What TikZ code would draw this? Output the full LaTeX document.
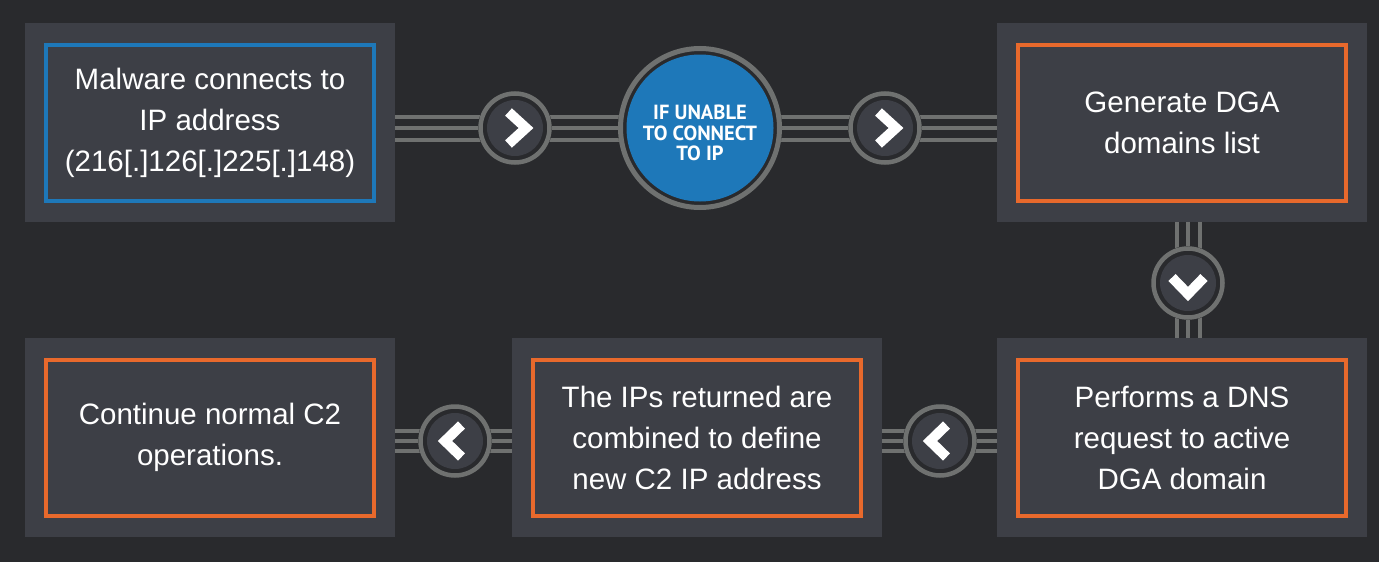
\documentclass[tikz,border=0pt]{standalone}
\usepackage{fontspec}
\setmainfont{Liberation Sans}
\newfontfamily\circfont{PT Sans}
\usetikzlibrary{calc}
\definecolor{bgc}{HTML}{292A2D}
\definecolor{panelc}{HTML}{3D3F46}
\definecolor{linec}{HTML}{6F7170}
\definecolor{bluec}{HTML}{1E78B9}
\definecolor{orangec}{HTML}{E8692C}
\tikzset{
  panel/.style={fill=panelc, minimum width=370pt, minimum height=199pt, inner sep=0pt},
  framebox/.style={draw=#1, line width=4pt, minimum width=328pt, minimum height=156pt, inner sep=0pt,
    text=white, align=center, font=\fontsize{29.5}{41}\selectfont},
  conn/.style={draw=linec, line width=4pt},
  smallc/.style={circle, fill=bgc, minimum size=76pt, inner sep=0pt},
  bigc/.style={circle, fill=bgc, minimum size=166pt, inner sep=0pt},
  chev/.style={draw=white, line width=10pt, miter limit=10},
}
\begin{document}
\begin{tikzpicture}[x=1pt,y=-1pt]
\useasboundingbox (0,0) rectangle (1379,562);
\fill[bgc] (0,0) rectangle (1379,562);
% panels
\node[panel] (p1) at (210,122.5) {};
\node[panel] (p2) at (1182,122.5) {};
\node[panel] (p3) at (1182,437.5) {};
\node[panel] (p4) at (697,437.5) {};
\node[panel] (p5) at (210,437.5) {};
% junction circles
\node[bigc] (big) at (700,128) {};
\node[smallc] (c1) at (515,128) {};
\node[smallc] (c2) at (885,128) {};
\node[smallc] (c3) at (1188,283) {};
\node[smallc] (c4) at (940,441) {};
\node[smallc] (c5) at (455,441) {};
% connectors
\foreach \d in {-11.5,0,11.5}{
  \draw[conn] ($(p1.east |- big)+(0,\d)$) -- ($(big.center)+(0,\d)$);
  \draw[conn] ($(big.center)+(0,\d)$) -- ($(p2.west |- big)+(0,\d)$);
  \draw[conn] ($(p2.south -| c3)+(\d,0)$) -- ($(p3.north -| c3)+(\d,0)$);
}
\foreach \d in {-10,0,10}{
  \draw[conn] ($(p3.west |- c4)+(0,\d)$) -- ($(p4.east |- c4)+(0,\d)$);
  \draw[conn] ($(p4.west |- c5)+(0,\d)$) -- ($(p5.east |- c5)+(0,\d)$);
}
% redraw circles on top of lines
\foreach \c in {c1,c2,c3,c4,c5}{
  \fill[bgc] (\c) circle (37);
  \draw[linec, line width=4.5pt] (\c) circle (34.5);
  \fill[panelc] (\c) circle (28);
}
\fill[bgc] (big) circle (82);
\draw[linec, line width=5pt] (big) circle (79.5);
\fill[bluec] (big) circle (73.5);
\node[text=white, align=center, font=\circfont\bfseries\fontsize{20.5}{20.5}\selectfont] (bigt) at ($(big)+(0,5)$) {IF UNABLE\\TO CONNECT\\TO IP};
% chevrons
\draw[chev] ($(c1)+(-6.5,-16)$) -- ($(c1)+(11,0)$) -- ($(c1)+(-6.5,16)$);
\draw[chev] ($(c2)+(-6.5,-16)$) -- ($(c2)+(11,0)$) -- ($(c2)+(-6.5,16)$);
\draw[chev] ($(c3)+(-16,-5.5)$) -- ($(c3)+(0,11)$) -- ($(c3)+(16,-5.5)$);
\draw[chev] ($(c4)+(6.5,-16)$) -- ($(c4)+(-10,0)$) -- ($(c4)+(6.5,16)$);
\draw[chev] ($(c5)+(6.5,-16)$) -- ($(c5)+(-10,0)$) -- ($(c5)+(6.5,16)$);
% framed texts
\node[framebox=bluec] (t1) at (p1) {Malware connects to\\IP address\\(216[.]126[.]225[.]148)};
\node[framebox=orangec] (t2) at (p2) {Generate DGA\\domains list};
\node[framebox=orangec] (t3) at (p3) {Performs a DNS\\request to active\\DGA domain};
\node[framebox=orangec] (t4) at (p4) {The IPs returned are\\combined to define\\new C2 IP address};
\node[framebox=orangec] (t5) at (p5) {Continue normal C2\\operations.};
\end{tikzpicture}
\end{document}
